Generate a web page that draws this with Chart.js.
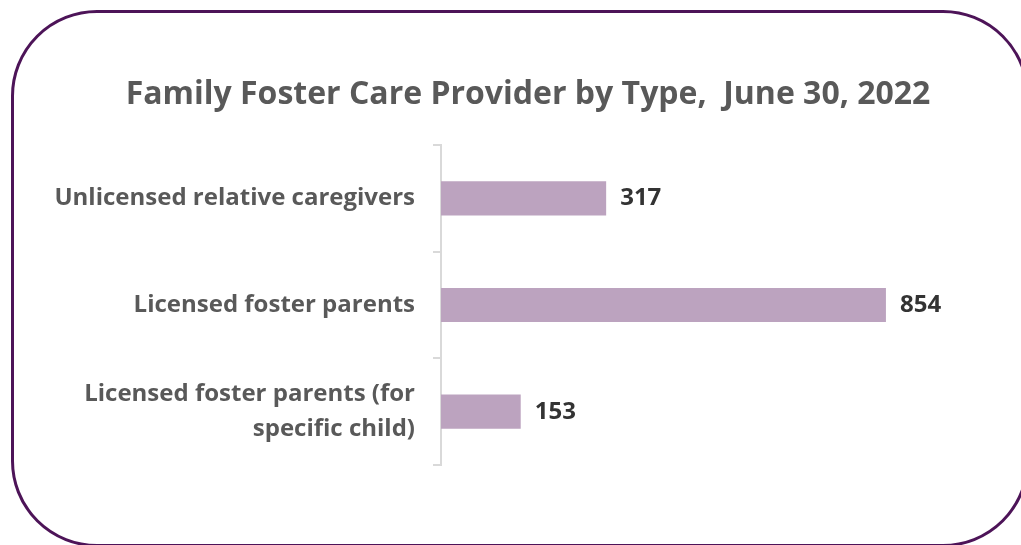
<!DOCTYPE html>
<html>
<head>
<meta charset="utf-8">
<script src="https://cdn.jsdelivr.net/npm/chart.js"></script>
<style>
html, body { margin: 0; padding: 0; background: #fff; overflow: hidden; }
#wrap { position: relative; width: 1021px; height: 545px; }
#frame {
  position: absolute; left: 11px; top: 10px; width: 1018px; height: 537px;
  box-sizing: border-box; border: 3px solid #4d1458; border-radius: 86px;
}
#chart { position: absolute; left: 0; top: 0; }
</style>
</head>
<body>
<div id="wrap">
  <div id="frame"></div>
  <canvas id="chart" width="1021" height="545"></canvas>
</div>
<script>
const categories = [
  'Unlicensed relative caregivers',
  'Licensed foster parents',
  ['Licensed foster parents (for', 'specific child)']
];
const providers = [317, 854, 153];
const chartTitle = 'Family Foster Care Provider by Type,  June 30, 2022';

// title is off-centre in the original, so draw it ourselves
const titleText = {
  id: 'titleText',
  afterDraw(chart) {
    const ctx = chart.ctx;
    ctx.save();
    ctx.font = 'bold 32px "Open Sans"';
    ctx.fillStyle = '#595959';
    ctx.textAlign = 'center';
    ctx.textBaseline = 'middle';
    ctx.fillText(chartTitle, 528, 95);
    ctx.restore();
  }
};

// value labels at the end of each bar
const valueLabels = {
  id: 'valueLabels',
  afterDatasetsDraw(chart) {
    const ctx = chart.ctx;
    const meta = chart.getDatasetMeta(0);
    ctx.save();
    ctx.font = 'bold 24px "Open Sans"';
    ctx.fillStyle = '#333333';
    ctx.textAlign = 'left';
    ctx.textBaseline = 'middle';
    meta.data.forEach((bar, i) => {
      ctx.fillText(providers[i], bar.x + 14, bar.y);
    });
    ctx.restore();
  }
};

const ctx = document.getElementById('chart').getContext('2d');
new Chart(ctx, {
  type: 'bar',
  data: {
    labels: categories,
    datasets: [{
      data: providers,
      backgroundColor: '#bca3bf',
      barPercentage: 0.32,
      categoryPercentage: 1
    }]
  },
  options: {
    indexAxis: 'y',
    responsive: false,
    animation: false,
    layout: { padding: { top: 145, bottom: 80, left: 20, right: 59 } },
    plugins: {
      legend: { display: false },
      tooltip: { enabled: false },
      title: { display: false }
    },
    scales: {
      x: { display: false, min: 0, max: 1000 },
      y: {
        afterFit(scale) { scale.width = 421; },
        grid: {
          drawOnChartArea: false,
          drawTicks: true,
          tickLength: 8,
          color: '#d9d9d9',
          lineWidth: 2
        },
        border: { display: true, color: '#d9d9d9', width: 2 },
        ticks: {
          color: '#595959',
          padding: 18,
          font: { family: 'Open Sans', size: 24, weight: 'bold', lineHeight: 1.46 }
        }
      }
    }
  },
  plugins: [valueLabels, titleText]
});
</script>
</body>
</html>
